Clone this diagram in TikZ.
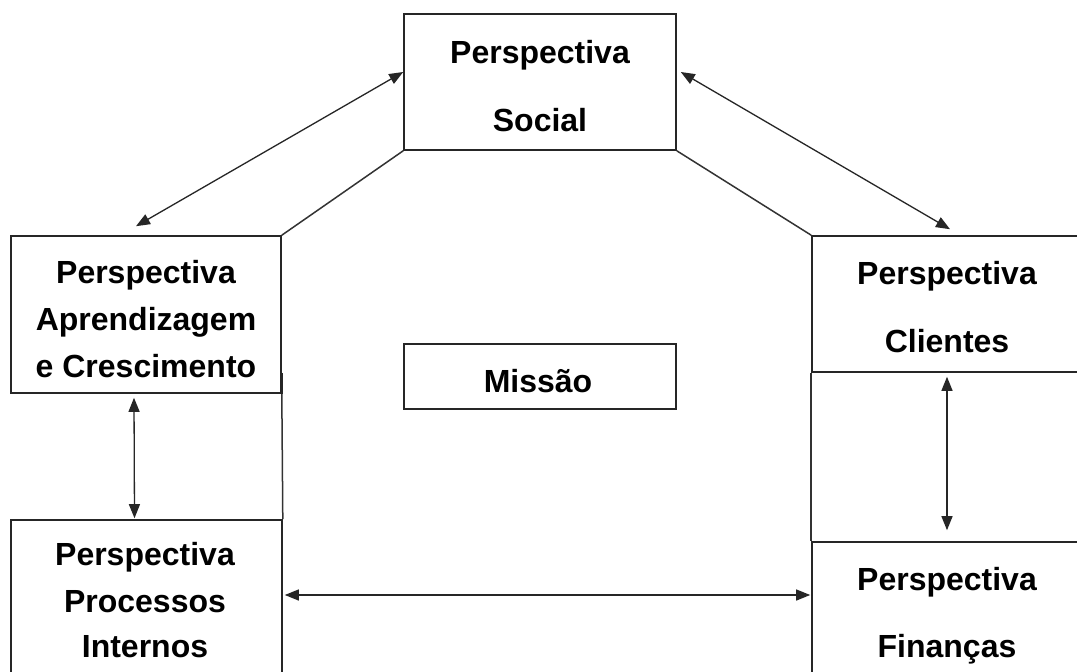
\documentclass[tikz,border=0pt]{standalone}
\usepackage{fontspec}
\setmainfont{Liberation Sans}
\usetikzlibrary{arrows.meta,calc}
\begin{document}
\begin{tikzpicture}[x=1pt,y=-1pt,
  box/.style={draw=black!85,line width=1.6pt,rectangle,inner sep=0pt},
  txt/.style={anchor=base,inner sep=0pt,font=\fontsize{32}{38}\selectfont\bfseries},
  conn/.style={draw=black!80,line width=1.5pt},
  biarrow/.style={draw=black!85,line width=1.3pt,{Triangle[length=14pt,width=11pt]}-{Triangle[length=14pt,width=11pt]}}]
\useasboundingbox (0,0) rectangle (1077,672);
\clip (0,0) rectangle (1077,672);
\fill[white] (0,0) rectangle (1077,672);
% boxes
\node[box,minimum width=272pt,minimum height=136pt] (social) at (540,82) {};
\node[box,minimum width=270pt,minimum height=157pt] (aprend) at (146,314.5) {};
\node[box,minimum width=270pt,minimum height=136pt] (clientes) at (947,304) {};
\node[box,minimum width=272pt,minimum height=65pt] (missao) at (540,376.5) {};
\node[box,minimum width=271pt,minimum height=160pt] (processos) at (146.5,600) {};
\node[box,minimum width=270pt,minimum height=138pt] (financas) at (947,611) {};
% texts
\node[txt] (t1) at (540,63) {Perspectiva};
\node[txt] (t2) at (540,131) {Social};
\node[txt] (t3) at (146,283) {Perspectiva};
\node[txt] (t4) at (146,330) {Aprendizagem};
\node[txt] (t5) at (146,377) {e Crescimento};
\node[txt] (t6) at (947,284) {Perspectiva};
\node[txt] (t7) at (947,352) {Clientes};
\node[txt] (t8) at (538,392) {Missão};
\node[txt] (t9) at (145,565) {Perspectiva};
\node[txt] (t10) at (145,612) {Processos};
\node[txt] (t11) at (145,657) {Internos};
\node[txt] (t12) at (947,590) {Perspectiva};
\node[txt] (t13) at (947,657) {Finanças};
% plain connectors
\draw[conn] (social.south west) -- (aprend.north east);
\draw[conn] (social.south east) -- (clientes.north west);
\draw[conn] (aprend.south east) -- (processos.north east);
\draw[conn] (clientes.south west) -- (financas.north west);
\draw[draw=black!85,line width=2.8pt] ($(aprend.south east)+(0,-21)$) -- (aprend.south east);
% arrows
\draw[biarrow] ($(social.west)+(0,-10)$) -- ($(aprend.north)+(-10,-9)$);
\draw[biarrow] ($(social.east)+(4,-10)$) -- ($(clientes.north)+(3,-6)$);
\draw[biarrow] ($(aprend.south)+(-12,4)$) -- ($(processos.north)+(-12,-1)$);
\draw[biarrow] ($(clientes.south)+(0,4)$) -- ($(financas.north)+(0,-11)$);
\draw[biarrow] ($(processos.east)+(2,-5)$) -- ($(financas.west)+(-1,-16)$);
\end{tikzpicture}
\end{document}
